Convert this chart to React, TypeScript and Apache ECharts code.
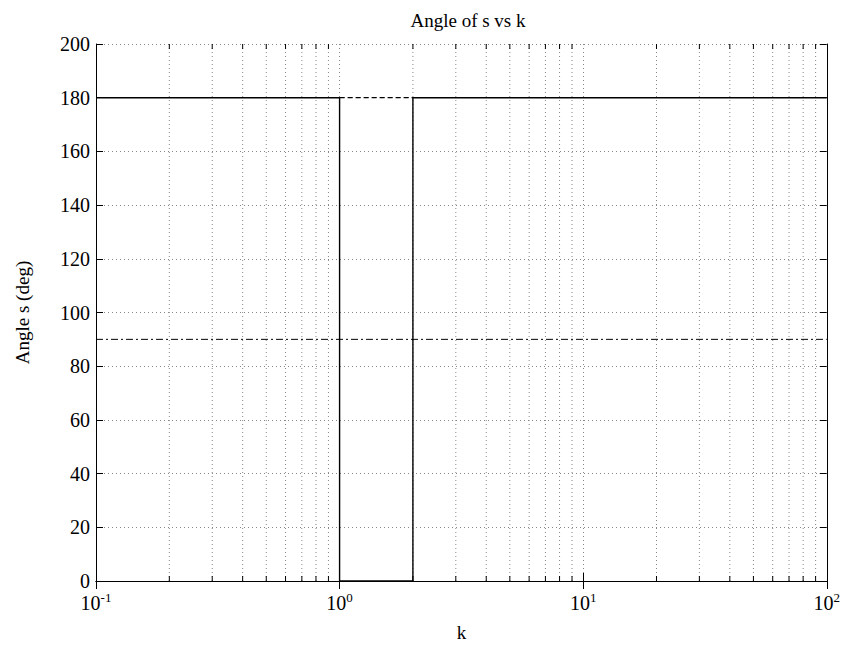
import React, { useEffect, useRef } from "react";
import * as echarts from "echarts";

const title = "Angle of s vs k";
const xName = "k";
const yName = "Angle s (deg)";
// solid curve: angle of first root vs k
const solidK = [0.1, 1, 1, 2, 2, 100];
const solidAngle = [180, 180, 0, 0, 180, 180];
// dashed curve: angle of second root
const dashedK = [1, 2];
const dashedAngle = [180, 180];
// dash-dot curve
const dashDotK = [0.1, 100];
const dashDotAngle = [90, 90];
const minorTicks = [0.2, 0.3, 0.4, 0.5, 0.6, 0.7, 0.8, 0.9, 2, 3, 4, 5, 6, 7, 8, 9, 20, 30, 40, 50, 60, 70, 80, 90];

const FONT = "Liberation Serif, serif";

export default function App() {
  const ref = useRef<HTMLDivElement>(null);
  useEffect(() => {
    if (!ref.current) return;
    const chart = echarts.init(ref.current, null, { renderer: "svg" });
    const zip = (xs: number[], ys: number[]) => xs.map((x, i) => [x, ys[i]]);
    const labelFmt = (v: number) => {
      const e = Math.round(Math.log10(v));
      return `{b|10}{s|${e}}`;
    };
    chart.setOption({
      animation: false,
      backgroundColor: "#fff",
      textStyle: { fontFamily: FONT, color: "#000" },
      title: {
        text: title,
        left: 463,
        textAlign: "center",
        top: 6,
        textStyle: { fontFamily: FONT, fontSize: 19, fontWeight: "normal", color: "#000" },
      },
      grid: { left: 96, right: 12, top: 44, bottom: 72 },
      xAxis: [
        {
          type: "log",
          logBase: 10,
          min: 0.1,
          max: 100,
          name: xName,
          nameLocation: "middle",
          nameGap: 42,
          nameTextStyle: { fontFamily: FONT, fontSize: 19, color: "#000" },
          axisLine: { show: true, lineStyle: { color: "#000", width: 1 } },
          axisTick: { show: true, inside: true, length: 8, lineStyle: { color: "#000" } },
          axisLabel: {
            formatter: labelFmt,
            margin: 10,
            rich: {
              b: { fontFamily: FONT, fontSize: 20, color: "#000" },
              s: { fontFamily: FONT, fontSize: 13, color: "#000", padding: [0, 0, 10, 0] },
            },
          },
          splitLine: { show: true, lineStyle: { type: [1, 3], color: "#888", width: 1 } },
        },
        {
          type: "log",
          logBase: 10,
          min: 0.1,
          max: 100,
          position: "top",
          axisLine: { show: true, lineStyle: { color: "#000", width: 1 } },
          axisTick: { show: true, inside: true, length: 8, lineStyle: { color: "#000" } },
          axisLabel: { show: false },
          splitLine: { show: false },
        },
      ],
      yAxis: [
        {
          type: "value",
          min: 0,
          max: 200,
          interval: 20,
          name: yName,
          nameLocation: "middle",
          nameGap: 64,
          nameTextStyle: { fontFamily: FONT, fontSize: 19, color: "#000" },
          axisLine: { show: true, lineStyle: { color: "#000", width: 1 } },
          axisTick: { show: true, inside: true, length: 7, lineStyle: { color: "#000" } },
          axisLabel: { fontFamily: FONT, fontSize: 20, color: "#000", margin: 6 },
          splitLine: { show: true, lineStyle: { type: [1, 3], color: "#888", width: 1 } },
        },
        {
          type: "value",
          min: 0,
          max: 200,
          interval: 20,
          position: "right",
          axisLine: { show: true, lineStyle: { color: "#000", width: 1 } },
          axisTick: { show: true, inside: true, length: 7, lineStyle: { color: "#000" } },
          axisLabel: { show: false },
          splitLine: { show: false },
        },
      ],
      series: [
        {
          type: "custom",
          silent: true,
          xAxisIndex: 0,
          yAxisIndex: 0,
          data: minorTicks.map((v) => [v, 0]),
          renderItem: (params: any, api: any) => {
            const x = api.value(0);
            const p0 = api.coord([x, 0]);
            const p1 = api.coord([x, 200]);
            return {
              type: "group",
              children: [
                {
                  type: "line",
                  shape: { x1: p0[0], y1: p0[1], x2: p1[0], y2: p1[1] },
                  style: { stroke: "#888", lineWidth: 1, lineDash: [1, 3] },
                },
                {
                  type: "line",
                  shape: { x1: p0[0], y1: p0[1], x2: p0[0], y2: p0[1] - 5 },
                  style: { stroke: "#000", lineWidth: 1 },
                },
                {
                  type: "line",
                  shape: { x1: p1[0], y1: p1[1], x2: p1[0], y2: p1[1] + 5 },
                  style: { stroke: "#000", lineWidth: 1 },
                },
              ],
            };
          },
        },
        {
          type: "line",
          data: zip(dashDotK, dashDotAngle),
          symbol: "none",
          lineStyle: { color: "#000", width: 1, type: [7, 3, 2, 3] },
        },
        {
          type: "line",
          data: zip(dashedK, dashedAngle),
          symbol: "none",
          lineStyle: { color: "#000", width: 1.2, type: [5, 3] },
        },
        {
          type: "line",
          data: zip(solidK, solidAngle),
          symbol: "none",
          lineStyle: { color: "#000", width: 1.4 },
        },
      ],
    });
    return () => chart.dispose();
  }, []);
  return (
    <div
      ref={ref}
      style={{ position: "fixed", left: 0, top: 0, width: 843, height: 653, background: "#fff" }}
    />
  );
}
